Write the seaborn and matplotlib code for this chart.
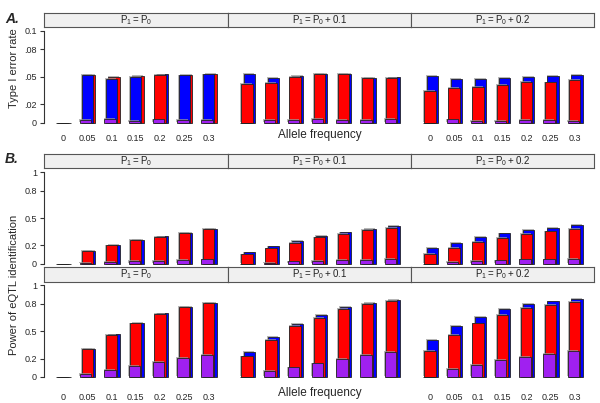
import numpy as np
import pandas as pd
import matplotlib
matplotlib.use("Agg")
import matplotlib.pyplot as plt
import matplotlib.patheffects as pe
import seaborn as sns

# x categories
freqs = ["0", "0.05", "0.1", "0.15", "0.2", "0.25", "0.3"]
strip_labels = [r"$\mathregular{P_1 = P_0}$",
                r"$\mathregular{P_1 = P_0 + 0.1}$",
                r"$\mathregular{P_1 = P_0 + 0.2}$"]

# A. type I error rate, one list per panel
err_blue = [[0, 0.0517, 0.0477, 0.0502, 0.0526, 0.0516, 0.0527],
            [0.0528, 0.0484, 0.0513, 0.0535, 0.0535, 0.0490, 0.0493],
            [0.0513, 0.0477, 0.0473, 0.0491, 0.0502, 0.0510, 0.0524]]
err_red = [[0, 0.0523, 0.0495, 0.0510, 0.0522, 0.0520, 0.0534],
           [0.0419, 0.0430, 0.0502, 0.0531, 0.0531, 0.0487, 0.0490],
           [0.0346, 0.0382, 0.0386, 0.0408, 0.0444, 0.0440, 0.0466]]
err_purple = [[0, 0.0026, 0.0037, 0.0018, 0.0035, 0.0030, 0.0030],
              [0, 0.0030, 0.0030, 0.0040, 0.0030, 0.0030, 0.0040],
              [0, 0.0036, 0.0020, 0.0020, 0.0030, 0.0030, 0.0020]]

# B. power, first row
pw1_blue = [[0, 0.142, 0.203, 0.262, 0.299, 0.339, 0.383],
            [0.124, 0.190, 0.248, 0.300, 0.343, 0.380, 0.409],
            [0.175, 0.226, 0.292, 0.332, 0.369, 0.394, 0.420]]
pw1_red = [[0, 0.139, 0.200, 0.259, 0.296, 0.336, 0.380],
           [0.102, 0.168, 0.230, 0.288, 0.325, 0.369, 0.394],
           [0.110, 0.170, 0.237, 0.285, 0.325, 0.354, 0.380]]
pw1_purple = [[0, 0.010, 0.018, 0.030, 0.030, 0.040, 0.047],
              [0, 0.010, 0.025, 0.030, 0.040, 0.044, 0.050],
              [0, 0.015, 0.030, 0.036, 0.047, 0.047, 0.050]]

# B. power, second row
pw2_blue = [[0, 0.308, 0.465, 0.588, 0.693, 0.767, 0.807],
            [0.276, 0.433, 0.578, 0.673, 0.760, 0.810, 0.844],
            [0.404, 0.560, 0.658, 0.742, 0.796, 0.825, 0.847]]
pw2_red = [[0, 0.305, 0.462, 0.585, 0.690, 0.764, 0.804],
           [0.225, 0.400, 0.553, 0.647, 0.738, 0.796, 0.833],
           [0.280, 0.462, 0.585, 0.680, 0.749, 0.785, 0.815]]
pw2_purple = [[0, 0.036, 0.076, 0.120, 0.164, 0.204, 0.244],
              [0, 0.062, 0.105, 0.149, 0.193, 0.240, 0.270],
              [0, 0.084, 0.131, 0.182, 0.222, 0.255, 0.280]]

BLUE, RED, PURPLE = "#0000ff", "#ff0000", "#a020f0"

sns.set_style("white")
plt.rcParams["font.family"] = ["Liberation Sans", "DejaVu Sans"]

W, H = 600, 403
fig = plt.figure(figsize=(6, 4.03), dpi=100)


def rect(x0, y0, x1, y1):
    return [x0 / W, 1 - y1 / H, (x1 - x0) / W, (y1 - y0) / H]


panel_x = [(44, 228), (228, 411), (411, 594)]
shift = [0.1, 0.0, -0.06]   # tallest bar sits behind and to the right


def draw_panel(ax, blue, red, purple):
    df = pd.DataFrame({"freq": freqs, "blue": blue, "red": red, "purple": purple})
    vals = np.array([blue, red, purple])
    order = np.argsort(-vals, axis=0, kind="stable")
    for s, (col, color) in enumerate([("blue", BLUE), ("red", RED), ("purple", PURPLE)]):
        n0 = len(ax.patches)
        sns.barplot(data=df, x="freq", y=col, order=freqs, color=color,
                    saturation=1, width=0.47, edgecolor="#222222",
                    linewidth=0.6, errorbar=None, ax=ax)
        for i, p in enumerate(ax.patches[n0:]):
            rank = list(order[:, i]).index(s)
            p.set_x(p.get_x() + shift[rank])
            p.set_zorder(3 + rank)
            p.set_path_effects([pe.SimplePatchShadow(offset=(-0.5, 0.6),
                                                     shadow_rgbFace="#999999",
                                                     alpha=0.7),
                                pe.Normal()])
    ax.set_xlabel("")
    ax.set_ylabel("")


rows = [
    dict(data=(err_blue, err_red, err_purple), strip=(13, 27), ax=(27, 126),
         zero=122.7, top=31.0, ymax=0.1,
         ticks=[0, 0.02, 0.05, 0.08, 0.1], labels=["0", ".02", ".05", ".08", "0.1"],
         xlab=True, pad=6),
    dict(data=(pw1_blue, pw1_red, pw1_purple), strip=(154, 168), ax=(168, 266),
         zero=263.7, top=172.3, ymax=1.0,
         ticks=[0, 0.2, 0.5, 0.8, 1], labels=["0", "0.2", "0.5", "0.8", "1"],
         xlab=False, pad=6),
    dict(data=(pw2_blue, pw2_red, pw2_purple), strip=(267, 282), ax=(282, 380),
         zero=377.0, top=285.3, ymax=1.0,
         ticks=[0, 0.2, 0.5, 0.8, 1], labels=["0", "0.2", "0.5", "0.8", "1"],
         xlab=True, pad=9),
]

for r in rows:
    per_px = r["ymax"] / (r["zero"] - r["top"])
    y_lo = -(r["ax"][1] - r["zero"]) * per_px
    y_hi = r["ymax"] + (r["top"] - r["ax"][0]) * per_px
    for j, (x0, x1) in enumerate(panel_x):
        # strip
        sax = fig.add_axes(rect(x0, r["strip"][0], x1, r["strip"][1]))
        sax.set_facecolor("#f0f0f0")
        sax.set_xticks([])
        sax.set_yticks([])
        for sp in sax.spines.values():
            sp.set_visible(True)
            sp.set_color("#555555")
            sp.set_linewidth(0.8)
        sax.text(0.5, 0.5, strip_labels[j], ha="center", va="center",
                 fontsize=7, color="#222222", transform=sax.transAxes)

        ax = fig.add_axes(rect(x0, r["ax"][0], x1, r["ax"][1]))
        ax.patch.set_alpha(0)
        blue, red, purple = (d[j] for d in r["data"])
        draw_panel(ax, blue, red, purple)
        ax.set_xlim(-0.78, 6.8)
        ax.set_ylim(y_lo, y_hi)
        for side in ["top", "right", "bottom"]:
            ax.spines[side].set_visible(False)
        if j == 0:
            ax.spines["left"].set_bounds(0, r["ymax"])
            ax.spines["left"].set_color("#333333")
            ax.spines["left"].set_linewidth(0.8)
            ax.set_yticks(r["ticks"])
            ax.set_yticklabels(r["labels"])
            ax.tick_params(axis="y", left=True, length=3, width=0.8,
                           color="#333333", labelsize=6.5, pad=2)
        else:
            ax.spines["left"].set_visible(False)
            ax.set_yticks([])
        ax.tick_params(axis="x", bottom=False, length=0, labelsize=6.5, pad=r["pad"])
        if r["xlab"] and j != 1:
            ax.set_xticks(range(len(freqs)))
            ax.set_xticklabels(freqs)
        else:
            ax.set_xticklabels([])
            ax.set_xticks([])

# axis titles
fig.text(320 / W, 1 - 135 / H, "Allele frequency", ha="center", va="center", fontsize=8.5)
fig.text(320 / W, 1 - 393 / H, "Allele frequency", ha="center", va="center", fontsize=8.5)
fig.text(14 / W, 1 - 68 / H, "Type I error rate", rotation=90,
         ha="center", va="center", fontsize=8)
fig.text(14 / W, 1 - 285 / H, "Power of eQTL identification", rotation=90,
         ha="center", va="center", fontsize=8)
fig.text(5 / W, 1 - 19 / H, "A.", ha="left", va="center", fontsize=10,
         fontweight="bold", fontstyle="italic")
fig.text(5 / W, 1 - 159 / H, "B.", ha="left", va="center", fontsize=10,
         fontweight="bold", fontstyle="italic")

fig.savefig("out.png", dpi=100)
